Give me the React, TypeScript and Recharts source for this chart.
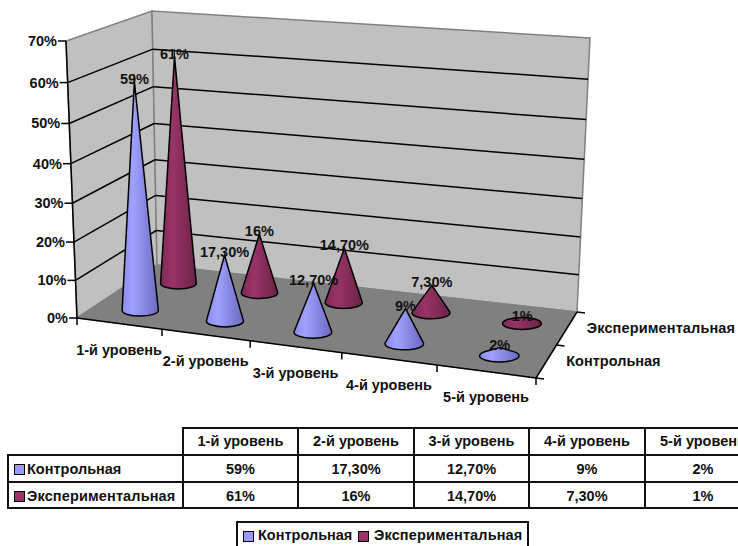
import React from 'react';
import { BarChart, Bar, XAxis, YAxis, Legend } from 'recharts';

const categories = ['1-й уровень', '2-й уровень', '3-й уровень', '4-й уровень', '5-й уровень'];
const seriesNames = ['Контрольная', 'Экспериментальная'];
const controlValues = [59, 17.3, 12.7, 9, 2];
const experimentalValues = [61, 16, 14.7, 7.3, 1];
const controlLabels = ['59%', '17,30%', '12,70%', '9%', '2%'];
const experimentalLabels = ['61%', '16%', '14,70%', '7,30%', '1%'];
const yTicks = [0, 10, 20, 30, 40, 50, 60, 70];
const yTickLabel = (v: number) => `${v}%`;

const chartData = categories.map((name, i) => ({
  name,
  control: controlValues[i],
  experimental: experimentalValues[i],
}));

const FONT = '"Liberation Sans", Arial, sans-serif';
const FS = 14.5;
const TEXT = '#111';
const CONTROL = '#9999FF';
const EXPERIMENTAL = '#993366';
const nameSpacing = (i: number) => (i === 1 ? 0.13 : 0);

// plot rectangle of the flat chart, then projected onto the 3D box
const PL = 100, PT = 50, PW = 500, PH = 300;
const PB = PT + PH;
const CONE_DX = 2;
type P = [number, number];
const A: P = [77, 318], G: P = [536, 378], C: P = [157, 265], E: P = [577, 312];
const B: P = [66, 41], H: P = [556, 81], D: P = [152, 11], F: P = [590, 38];
const lerp = (a: P, b: P, t: number): P => [a[0] + (b[0] - a[0]) * t, a[1] + (b[1] - a[1]) * t];
const warp = (t: number, k: number) => (t <= 0 ? 0 : t / (t + k * (1 - t)));
const proj = (u: number, v: number, w: number): P => {
  const U = warp(u, 1.1);
  const V = warp(v, 1.06);
  const bottom = lerp(lerp(A, G, U), lerp(C, E, U), w);
  const top = lerp(lerp(B, H, U), lerp(D, F, U), w);
  return lerp(bottom, top, V);
};
const pts = (list: P[]) => list.map((p) => `${p[0]},${p[1]}`).join(' ');

const Line3 = ({ a, b, color = '#000', w = 1.5 }: { a: P; b: P; color?: string; w?: number }) => (
  <line x1={a[0]} y1={a[1]} x2={b[0]} y2={b[1]} stroke={color} strokeWidth={w} />
);

const Box = () => (
  <g>
    <defs>
      <linearGradient id="gc" x1="0" x2="1" y1="0" y2="0">
        <stop offset="0" stopColor="#8C8CEE" />
        <stop offset="0.3" stopColor="#A0A0FF" />
        <stop offset="1" stopColor="#6A6AC0" />
      </linearGradient>
      <linearGradient id="ge" x1="0" x2="1" y1="0" y2="0">
        <stop offset="0" stopColor="#80295A" />
        <stop offset="0.35" stopColor="#993366" />
        <stop offset="1" stopColor="#6B2347" />
      </linearGradient>
    </defs>
    <polygon points={pts([A, B, D, C])} fill="#C0C0C0" stroke="#808080" strokeWidth={1.5} />
    <polygon points={pts([C, D, F, E])} fill="#C0C0C0" stroke="#808080" strokeWidth={1.5} />
    <polygon points={pts([A, C, E, G])} fill="#808080" stroke="#808080" strokeWidth={1} />
    {yTicks.filter((t) => t > 0 && t < 70).map((t) => {
      const v = t / 70;
      return (
        <g key={t}>
          <Line3 a={proj(0, v, 0)} b={proj(0, v, 1)} />
          <Line3 a={proj(0, v, 1)} b={proj(1, v, 1)} />
        </g>
      );
    })}
    <Line3 a={A} b={B} />
    <Line3 a={A} b={G} />
    <Line3 a={G} b={E} />
    {categories.concat('').map((_, k) => {
      const p = proj(k / categories.length, 0, 0);
      return <Line3 key={k} a={p} b={[p[0], p[1] + 7]} />;
    })}
    {[0, 0.5, 1].map((w) => {
      const p = proj(1, 0, w);
      return <Line3 key={w} a={p} b={[p[0] + 8, p[1] + 1]} />;
    })}
    {seriesNames.map((name, i) => {
      const p = proj(1, 0, i === 0 ? 0.25 : 0.75);
      return (
        <text key={name} x={p[0] + 20} y={p[1] + 4} fontFamily={FONT} fontWeight={700} fontSize={FS} letterSpacing={nameSpacing(i)} fill={TEXT}>
          {name}
        </text>
      );
    })}
  </g>
);

const XTick = ({ x, payload }: any) => {
  const p = proj((x - PL) / PW, 0, 0);
  return (
    <text x={p[0]} y={p[1] + 31} textAnchor="middle" fontFamily={FONT} fontWeight={700} fontSize={FS} fill={TEXT}>
      {payload.value}
    </text>
  );
};

const YTick = ({ y, payload }: any) => {
  const p = proj(0, (PB - y) / PH, 0);
  return (
    <g>
      <Line3 a={[p[0] - 8, p[1]]} b={p} />
      <text x={p[0] - 9} y={p[1] + 5} textAnchor="end" fontFamily={FONT} fontWeight={700} fontSize={FS} fill={TEXT}>
        {yTickLabel(payload.value)}
      </text>
    </g>
  );
};

const coneShape = (depth: number, grad: string, labels: string[], leftHalf: boolean) => (props: any) => {
  const { x, y, width, index } = props;
  const u = ((leftHalf ? x + width : x) - PL) / PW;
  const v = (PB - y) / PH;
  const b0 = proj(u, 0, depth);
  const a0 = proj(u, v, depth);
  const base: P = [b0[0] + CONE_DX, b0[1] + 0.5];
  const apex: P = [a0[0] + CONE_DX, a0[1]];
  const rx = width * (0.35 + 0.04 * warp(u, 1.1) + 0.012 * (1 - depth));
  const ry = rx * 0.31;
  const dx = (apex[0] - base[0]) / rx;
  const dy = (apex[1] - base[1]) / ry;
  const d = Math.hypot(dx, dy);
  let shape;
  if (d <= 1.02) {
    shape = <ellipse cx={base[0]} cy={base[1]} rx={rx} ry={ry} fill={`url(#${grad})`} stroke="#000" strokeWidth={1.5} />;
  } else {
    const phi = Math.atan2(dy, dx);
    const delta = Math.acos(1 / d);
    const t1 = phi - delta;
    const t2 = phi + delta;
    const p1: P = [base[0] + rx * Math.cos(t1), base[1] + ry * Math.sin(t1)];
    const p2: P = [base[0] + rx * Math.cos(t2), base[1] + ry * Math.sin(t2)];
    const [r, l] = p1[0] > p2[0] ? [p1, p2] : [p2, p1];
    shape = (
      <path
        d={`M${l[0]},${l[1]} L${apex[0]},${apex[1]} L${r[0]},${r[1]} A${rx},${ry} 0 1 1 ${l[0]},${l[1]} Z`}
        fill={`url(#${grad})`}
        stroke="#000"
        strokeWidth={1.5}
        strokeLinejoin="miter"
        strokeMiterlimit={30}
      />
    );
  }
  return (
    <g>
      {shape}
      <text x={apex[0]} y={apex[1] + 2} textAnchor="middle" fontFamily={FONT} fontWeight={700} fontSize={FS} fill={TEXT}>
        {labels[index]}
      </text>
    </g>
  );
};

const Swatch = ({ color, style }: { color: string; style: React.CSSProperties }) => (
  <span style={{ position: 'absolute', width: 9, height: 9, boxSizing: 'content-box', border: '1px solid #000', background: color, ...style }} />
);

const LegendBox = () => (
  <div style={{ position: 'relative', width: 293, height: 40, boxSizing: 'border-box', border: '2px solid #111', background: '#fff', fontFamily: FONT, fontWeight: 700, fontSize: FS, color: TEXT }}>
    <Swatch color={CONTROL} style={{ left: 5, top: 8 }} />
    <span style={{ position: 'absolute', left: 20, top: 4 }}>{seriesNames[0]}</span>
    <Swatch color={EXPERIMENTAL} style={{ left: 120, top: 8 }} />
    <span style={{ position: 'absolute', left: 136, top: 4, letterSpacing: nameSpacing(1) }}>{seriesNames[1]}</span>
  </div>
);

const cellBase: React.CSSProperties = { border: '2px solid #111', textAlign: 'center', padding: 0, overflow: 'hidden', whiteSpace: 'nowrap' };
const colWidths = [175, 115, 116, 115, 116, 116];

const DataTable = () => (
  <table style={{ position: 'absolute', left: 7, top: 427, width: 753, tableLayout: 'fixed', borderCollapse: 'collapse', fontFamily: FONT, fontWeight: 700, fontSize: FS, color: TEXT }}>
    <colgroup>{colWidths.map((w, i) => <col key={i} style={{ width: w }} />)}</colgroup>
    <tbody>
      <tr style={{ height: 27 }}>
        <td style={{ ...cellBase, borderTop: 'none', borderLeft: 'none' }} />
        {categories.map((c) => <td key={c} style={{ ...cellBase, paddingBottom: 2 }}>{c}</td>)}
      </tr>
      {[controlLabels, experimentalLabels].map((row, r) => (
        <tr key={r} style={{ height: r === 0 ? 27 : 26 }}>
          <td style={{ ...cellBase, textAlign: 'left', position: 'relative', paddingLeft: 18, paddingTop: 1, letterSpacing: nameSpacing(r) }}>
            <Swatch color={r === 0 ? CONTROL : EXPERIMENTAL} style={{ left: 5, top: 8 }} />
            {seriesNames[r]}
          </td>
          {row.map((t, i) => <td key={i} style={{ ...cellBase, paddingTop: 1 }}>{t}</td>)}
        </tr>
      ))}
    </tbody>
  </table>
);

export default function App() {
  return (
    <div style={{ position: 'absolute', left: 0, top: 0, width: 738, height: 546, overflow: 'hidden', background: '#fff' }}>
      <BarChart
        width={738}
        height={546}
        data={chartData}
        margin={{ left: 40, top: PT, right: 138, bottom: 166 }}
        barGap={0}
        barCategoryGap={0}
      >
        <Box />
        <XAxis dataKey="name" axisLine={false} tickLine={false} height={30} interval={0} tick={<XTick />} />
        <YAxis domain={[0, 70]} ticks={yTicks} width={60} axisLine={false} tickLine={false} interval={0} tick={<YTick />} />
        <Legend
          layout="horizontal"
          verticalAlign="middle"
          align="center"
          wrapperStyle={{ left: 236, top: 521, width: 293, height: 40 }}
          content={() => <LegendBox />}
        />
        <Bar dataKey="experimental" name={seriesNames[1]} fill={EXPERIMENTAL} isAnimationActive={false} shape={coneShape(0.75, 'ge', experimentalLabels, true)} />
        <Bar dataKey="control" name={seriesNames[0]} fill={CONTROL} isAnimationActive={false} shape={coneShape(0.25, 'gc', controlLabels, false)} />
      </BarChart>
      <DataTable />
    </div>
  );
}
